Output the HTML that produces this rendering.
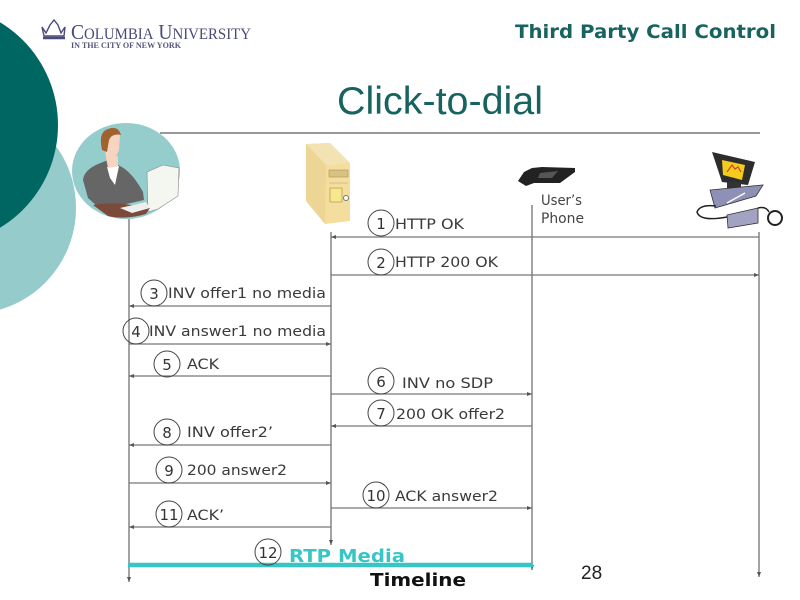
<!DOCTYPE html>
<html><head><meta charset="utf-8"><style>
html,body{margin:0;padding:0;background:#fff}
svg{display:block;filter:blur(.35px)}
.t{font-family:"DejaVu Sans",sans-serif;font-size:14.5px;fill:#3a3a3a}
.n{font-family:"DejaVu Sans",sans-serif;font-size:15px;fill:#333;text-anchor:middle}
.l{stroke:#666;stroke-width:1.2;fill:none}
.h{stroke:#777;stroke-width:1.3;fill:none}
.c{stroke:#444;stroke-width:1;fill:#fff;fill-opacity:0}
</style></head><body>
<svg width="800" height="600" viewBox="0 0 800 600" xmlns="http://www.w3.org/2000/svg">
<defs><marker id="a" markerWidth="6" markerHeight="6" refX="5" refY="2" orient="auto" markerUnits="userSpaceOnUse"><path d="M0,0L5,2L0,4z" fill="#555"/></marker></defs>
<rect width="800" height="600" fill="#fff"/>
<circle cx="-30" cy="208" r="106" fill="#95cbcb"/>
<circle cx="-62" cy="125" r="120" fill="#006661"/>
<line x1="160" y1="133" x2="760" y2="133" stroke="#777" stroke-width="1.5"/>
<ellipse cx="126" cy="171" rx="54" ry="48" fill="#95cdcd"/>
<!-- person -->
<path d="M83,180Q84,170 98,164L108,160L120,166Q132,172 143,192L144,200L122,205L98,207L88,198Z" fill="#666"/>
<path d="M107,167L119,166L115,185L110,178Z" fill="#fff"/>
<path d="M104,134Q112,128 120,134L119,150Q115,160 110,160L106,158Z" fill="#f7d4bf"/>
<path d="M106,158L118,156L118,166L108,168Z" fill="#f7d4bf"/>
<path d="M102,150Q98,132 108,129Q118,125 121,135Q112,133 109,140L107,152Z" fill="#a0632f"/>
<path d="M147,172L163,165L179,168L178,196L158,209L148,212Z" fill="#f4f6f0" stroke="#888" stroke-width=".6"/>
<path d="M93,205Q110,202 125,204L150,208L146,214Q125,220 108,216Z" fill="#7c4a3a"/>
<path d="M120,208L146,202L150,208L132,213Z" fill="#eee"/>
<!-- logo -->
<path d="M42,27L46,33L50,25L54,20L58,25L61,33L65,27L64,36H44Z" fill="none" stroke="#4a4a7c" stroke-width="1.4"/>
<path d="M43,38H65" stroke="#4a4a7c" stroke-width="2.5"/>
<text x="71" y="39" font-family="'Liberation Serif',serif" font-size="21" fill="#4a4a78" textLength="180" lengthAdjust="spacingAndGlyphs">C<tspan font-size="16">OLUMBIA</tspan> U<tspan font-size="16">NIVERSITY</tspan></text>
<text x="71" y="48" font-family="'Liberation Serif',serif" font-size="8" font-weight="bold" fill="#55557a" textLength="110" lengthAdjust="spacingAndGlyphs">IN THE CITY OF NEW YORK</text>
<text x="515" y="38" font-family="'DejaVu Sans',sans-serif" font-weight="bold" font-size="19" fill="#17635f" textLength="261" lengthAdjust="spacingAndGlyphs">Third Party Call Control</text>
<text x="337" y="114" font-family="'Liberation Sans',sans-serif" font-size="39" fill="#17635f" textLength="206" lengthAdjust="spacingAndGlyphs">Click-to-dial</text>
<!-- server -->
<path d="M306,144L330,143L350,163L350,221L325,224L306,201Z" fill="#f5dd9e"/>
<path d="M306,144L330,143L350,163L326,165Z" fill="#f3e3b2"/>
<path d="M306,144L326,165L325,224L306,201Z" fill="#ecd595"/>
<rect x="329" y="170" width="19" height="7" fill="#d9c184" stroke="#9a8650" stroke-width=".5"/>
<path d="M329,183H348" stroke="#c9b377" stroke-width=".7"/>
<rect x="330" y="188" width="12" height="14" fill="#f8e88c" stroke="#8a7a40" stroke-width=".5"/>
<circle cx="346" cy="198" r="2.5" fill="#fff" stroke="#776"/>
<!-- phone -->
<path d="M518,181L524,172L532,168L542,167L575,168L575,172L560,183L534,183L526,186Z" fill="#222"/>
<path d="M540,173L558,171L552,178L538,178Z" fill="#555"/>
<text x="541" y="205" font-family="'DejaVu Sans',sans-serif" font-size="14.5" fill="#444" textLength="41" lengthAdjust="spacingAndGlyphs">User’s</text>
<text x="541" y="223" font-family="'DejaVu Sans',sans-serif" font-size="14.5" fill="#444" textLength="43" lengthAdjust="spacingAndGlyphs">Phone</text>
<!-- computer -->
<path d="M712,152L755,162L748,185L722,182Z" fill="#2d2d2d"/>
<path d="M722,160L745,165L742,180L723,175Z" fill="#f5cc1c"/>
<path d="M727,172l5,-7l3,4l3,-2l3,5" stroke="#c43" fill="none" stroke-width="1.2"/>
<path d="M727,182h14v8h-14z" fill="#333"/>
<path d="M710,190L763,185L756,196L715,208Z" fill="#8f90b5" stroke="#333" stroke-width=".8"/>
<path d="M727,203L745,193" stroke="#fff" stroke-width="1.5"/>
<path d="M727,215L758,208L758,223L728,228Z" fill="#a2a2c2" stroke="#333" stroke-width=".8"/>
<ellipse cx="775" cy="218" rx="7" ry="7" fill="#fff" stroke="#222" stroke-width="2"/>
<path d="M727,217Q700,222 697,212Q700,204 716,206M758,208Q766,206 769,212" fill="none" stroke="#222" stroke-width="1.5"/>
<!-- lifelines -->
<line class="l" x1="129" y1="219" x2="129" y2="582" marker-end="url(#a)"/>
<line class="l" x1="331" y1="232" x2="331" y2="545" marker-end="url(#a)"/>
<line class="l" x1="532" y1="205" x2="532" y2="570" marker-end="url(#a)"/>
<line class="l" x1="759" y1="232" x2="759" y2="577" marker-end="url(#a)"/>
<!-- messages -->
<line class="h" x1="759" y1="237" x2="331" y2="237" marker-end="url(#a)"/>
<line class="h" x1="331" y1="275" x2="759" y2="275" marker-end="url(#a)"/>
<line class="h" x1="331" y1="306" x2="129" y2="306" marker-end="url(#a)"/>
<line class="h" x1="129" y1="344" x2="331" y2="344" marker-end="url(#a)"/>
<line class="h" x1="331" y1="376" x2="129" y2="376" marker-end="url(#a)"/>
<line class="h" x1="331" y1="394" x2="532" y2="394" marker-end="url(#a)"/>
<line class="h" x1="532" y1="426" x2="331" y2="426" marker-end="url(#a)"/>
<line class="h" x1="331" y1="445" x2="129" y2="445" marker-end="url(#a)"/>
<line class="h" x1="129" y1="483" x2="331" y2="483" marker-end="url(#a)"/>
<line class="h" x1="331" y1="508" x2="532" y2="508" marker-end="url(#a)"/>
<line class="h" x1="331" y1="527" x2="129" y2="527" marker-end="url(#a)"/>
<line x1="128" y1="565" x2="533" y2="565" stroke="#38c5c5" stroke-width="4.5"/>
<!-- circles -->
<circle class="c" cx="381" cy="223" r="13"/><text class="n" x="381" y="229">1</text>
<circle class="c" cx="381" cy="262" r="13"/><text class="n" x="381" y="268">2</text>
<circle class="c" cx="154" cy="293" r="13"/><text class="n" x="154" y="299">3</text>
<circle class="c" cx="136" cy="331" r="13"/><text class="n" x="136" y="337">4</text>
<circle class="c" cx="167" cy="364" r="13"/><text class="n" x="167" y="370">5</text>
<circle class="c" cx="381" cy="381" r="13"/><text class="n" x="381" y="387">6</text>
<circle class="c" cx="381" cy="413" r="13"/><text class="n" x="381" y="419">7</text>
<circle class="c" cx="167" cy="432" r="13"/><text class="n" x="167" y="438">8</text>
<circle class="c" cx="169" cy="470" r="13"/><text class="n" x="169" y="476">9</text>
<circle class="c" cx="376" cy="495" r="13"/><text class="n" x="376" y="501">10</text>
<circle class="c" cx="169" cy="514" r="13"/><text class="n" x="169" y="520">11</text>
<circle class="c" cx="268" cy="552" r="13"/><text class="n" x="268" y="558">12</text>
<!-- labels -->
<text class="t" x="395" y="229" textLength="69" lengthAdjust="spacingAndGlyphs">HTTP OK</text>
<text class="t" x="395" y="267" textLength="103" lengthAdjust="spacingAndGlyphs">HTTP 200 OK</text>
<text class="t" x="168" y="298" textLength="158" lengthAdjust="spacingAndGlyphs">INV offer1 no media</text>
<text class="t" x="149" y="336" textLength="177" lengthAdjust="spacingAndGlyphs">INV answer1 no media</text>
<text class="t" x="187" y="369" textLength="32" lengthAdjust="spacingAndGlyphs">ACK</text>
<text class="t" x="402" y="388" textLength="91" lengthAdjust="spacingAndGlyphs">INV no SDP</text>
<text class="t" x="396" y="419" textLength="109" lengthAdjust="spacingAndGlyphs">200 OK offer2</text>
<text class="t" x="187" y="437" textLength="86" lengthAdjust="spacingAndGlyphs">INV offer2’</text>
<text class="t" x="187" y="475" textLength="100" lengthAdjust="spacingAndGlyphs">200 answer2</text>
<text class="t" x="395" y="501" textLength="103" lengthAdjust="spacingAndGlyphs">ACK answer2</text>
<text class="t" x="187" y="520" textLength="37" lengthAdjust="spacingAndGlyphs">ACK’</text>
<text x="289" y="562" font-family="'DejaVu Sans',sans-serif" font-weight="bold" font-size="18" fill="#38c5c5" textLength="116" lengthAdjust="spacingAndGlyphs">RTP Media</text>
<text x="370" y="586" font-family="'DejaVu Sans',sans-serif" font-weight="bold" font-size="18" fill="#111" textLength="96" lengthAdjust="spacingAndGlyphs">Timeline</text>
<text x="581" y="579" font-family="'Liberation Sans',sans-serif" font-size="19" fill="#222">28</text>
</svg>
</body></html>
